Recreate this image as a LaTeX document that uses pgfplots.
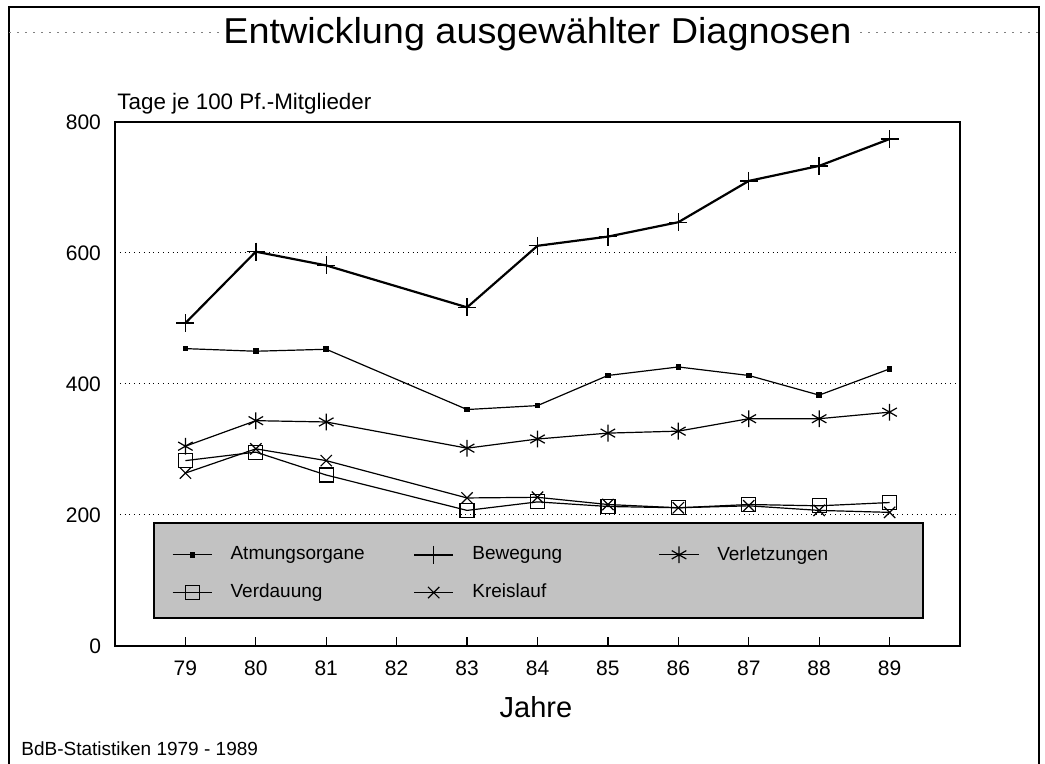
\documentclass[border=0pt]{standalone}
\usepackage{fontspec}
\setmainfont{Liberation Sans}
\newfontfamily\titlefont[FakeStretch=1.05]{Liberation Sans}
\usepackage{pgfplots}
\pgfplotsset{compat=1.18}

\begin{document}
\begin{tikzpicture}
\useasboundingbox (0,0) rectangle (522.5pt,382pt);
% outer frame (open at the bottom)
\draw[line width=1pt] (4.6pt,-2pt) -- (4.6pt,378.6pt) -- (519.5pt,378.6pt) -- (519.5pt,-2pt);
\draw[gray, line width=0.4pt, dash pattern=on 1pt off 3pt] (4.6pt,366pt) -- (110pt,366pt);
\draw[gray, line width=0.4pt, dash pattern=on 1pt off 3pt] (430pt,366pt) -- (519pt,366pt);

\node[anchor=base, font=\titlefont\fontsize{18}{21}\selectfont] at (268.75pt,360.3pt) {Entwicklung ausgewählter Diagnosen};
\node[anchor=base west, inner sep=0pt, font=\fontsize{11.2}{13}\selectfont] at (58.5pt,327.3pt) {Tage je 100 Pf.-Mitglieder};
\node[anchor=base, font=\fontsize{14.5}{17}\selectfont] at (268pt,23.4pt) {Jahre};
\node[anchor=base west, inner sep=0pt, font=\fontsize{9.5}{11}\selectfont] at (10.5pt,4pt) {BdB-Statistiken 1979 - 1989};

\begin{axis}[
  at={(57.5pt,59pt)}, anchor=south west,
  scale only axis, width=422.5pt, height=262pt,
  xmin=78, xmax=90, ymin=0, ymax=800,
  xtick={79,...,89}, ytick={0,200,400,600,800},
  xtick pos=bottom,
  /pgf/number format/assume math mode=true,
  /pgf/number format/1000 sep={},
  tick label style={font=\fontsize{10.5}{12}\selectfont},
  xticklabel style={yshift=-4pt},
  yticklabel style={xshift=-3.5pt},
  axis line style={line width=0.8pt},
  tick align=inside, major tick length=4.5pt,
  xtick style={black, line width=0.6pt},
  ytick style={draw=none},
  ymajorgrids, grid style={black, dotted, line width=0.5pt},
  legend columns=3,
  legend style={at={(0.06,0.138)}, anchor=west, draw=none, fill=none,
    font=\fontsize{9.5}{11}\selectfont, row sep=6.5pt,
    /tikz/every odd column/.append style={column sep=7pt}},
  legend cell align=left,
  legend image code/.code={\draw[mark repeat=2,mark phase=2] plot coordinates {(0cm,0cm) (0.345cm,0cm) (0.69cm,0cm)};},
]
\draw[black, line width=0.7pt, fill=black!24] (rel axis cs:0.0462,0.2347) rectangle (rel axis cs:0.9562,0.0534);

\addplot[black, line width=0.6pt, mark=square*, mark size=1.1pt] coordinates {
  (79,454) (80,450) (81,453) (83,361) (84,367) (85,413) (86,426) (87,413) (88,383) (89,423)};
\addlegendentry{\makebox[89.2pt][l]{Atmungsorgane}}
\addplot[black, line width=1.1pt, mark=+, mark size=4.5pt, mark options={line width=0.7pt}] coordinates {
  (79,493) (80,602) (81,581) (83,517) (84,611) (85,625) (86,647) (87,710) (88,733) (89,774)};
\addlegendentry{\makebox[91.2pt][l]{Bewegung}}
\addplot[black, line width=0.6pt, mark=asterisk, mark size=4.2pt] coordinates {
  (79,305) (80,344) (81,342) (83,302) (84,316) (85,325) (86,328) (87,347) (88,347) (89,357)};
\addlegendentry{Verletzungen}
\addplot[black, line width=0.6pt, mark=square, mark size=3.5pt] coordinates {
  (79,283) (80,296) (81,261) (83,207) (84,220) (85,213) (86,211) (87,216) (88,214) (89,219)};
\addlegendentry{Verdauung}
\addplot[black, line width=0.6pt, mark=x, mark size=4pt] coordinates {
  (79,264) (80,301) (81,283) (83,226) (84,227) (85,216) (86,211) (87,214) (88,207) (89,204)};
\addlegendentry{Kreislauf}
\end{axis}
\end{tikzpicture}
\end{document}
